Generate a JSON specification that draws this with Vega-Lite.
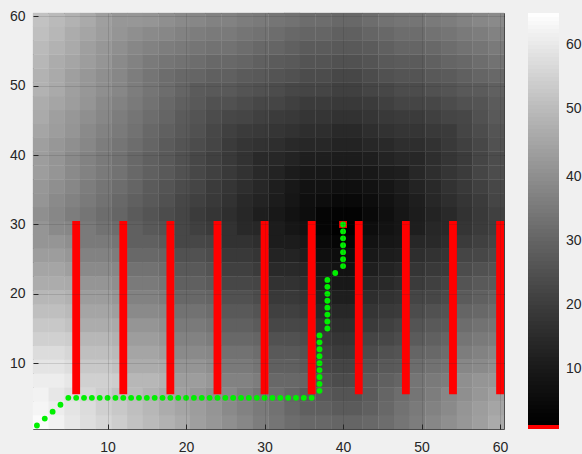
{
"$schema":"https://vega.github.io/schema/vega-lite/v6.json",
"width":471,"height":416,
"autosize":{"type":"none"},
"padding":{"left":33,"top":13,"right":78,"bottom":25},
"background":"#f0f0f0",
"view":{"stroke":"#404040","strokeWidth":1},
"config":{"font":"Liberation Sans"},
"datasets":{
"cells":[
{"x":1.5,"y":1.5,"v":64},{"x":3.5,"y":1.5,"v":62},{"x":5.5,"y":1.5,"v":60},{"x":7.5,"y":1.5,"v":58},{"x":9.5,"y":1.5,"v":56},{"x":11.5,"y":1.5,"v":54},{"x":13.5,"y":1.5,"v":52},{"x":15.5,"y":1.5,"v":50},{"x":17.5,"y":1.5,"v":48},{"x":19.5,"y":1.5,"v":46},{"x":21.5,"y":1.5,"v":44},{"x":23.5,"y":1.5,"v":42},{"x":25.5,"y":1.5,"v":40},{"x":27.5,"y":1.5,"v":38},{"x":29.5,"y":1.5,"v":36},{"x":31.5,"y":1.5,"v":34},{"x":33.5,"y":1.5,"v":32},{"x":35.5,"y":1.5,"v":31},{"x":37.5,"y":1.5,"v":31},{"x":39.5,"y":1.5,"v":30},{"x":41.5,"y":1.5,"v":30},{"x":43.5,"y":1.5,"v":31},{"x":45.5,"y":1.5,"v":32},{"x":47.5,"y":1.5,"v":34},{"x":49.5,"y":1.5,"v":36},{"x":51.5,"y":1.5,"v":38},{"x":53.5,"y":1.5,"v":40},{"x":55.5,"y":1.5,"v":42},{"x":57.5,"y":1.5,"v":44},{"x":59.5,"y":1.5,"v":46},
{"x":1.5,"y":3.5,"v":63},{"x":3.5,"y":3.5,"v":61},{"x":5.5,"y":3.5,"v":59},{"x":7.5,"y":3.5,"v":57},{"x":9.5,"y":3.5,"v":55},{"x":11.5,"y":3.5,"v":53},{"x":13.5,"y":3.5,"v":51},{"x":15.5,"y":3.5,"v":49},{"x":17.5,"y":3.5,"v":47},{"x":19.5,"y":3.5,"v":45},{"x":21.5,"y":3.5,"v":43},{"x":23.5,"y":3.5,"v":41},{"x":25.5,"y":3.5,"v":39},{"x":27.5,"y":3.5,"v":37},{"x":29.5,"y":3.5,"v":35},{"x":31.5,"y":3.5,"v":33},{"x":33.5,"y":3.5,"v":31},{"x":35.5,"y":3.5,"v":29},{"x":37.5,"y":3.5,"v":29},{"x":39.5,"y":3.5,"v":28},{"x":41.5,"y":3.5,"v":28},{"x":43.5,"y":3.5,"v":29},{"x":45.5,"y":3.5,"v":31},{"x":47.5,"y":3.5,"v":33},{"x":49.5,"y":3.5,"v":35},{"x":51.5,"y":3.5,"v":37},{"x":53.5,"y":3.5,"v":39},{"x":55.5,"y":3.5,"v":41},{"x":57.5,"y":3.5,"v":43},{"x":59.5,"y":3.5,"v":45},
{"x":1.5,"y":5.5,"v":62},{"x":3.5,"y":5.5,"v":60},{"x":5.5,"y":5.5,"v":58},{"x":7.5,"y":5.5,"v":56},{"x":9.5,"y":5.5,"v":54},{"x":11.5,"y":5.5,"v":52},{"x":13.5,"y":5.5,"v":50},{"x":15.5,"y":5.5,"v":48},{"x":17.5,"y":5.5,"v":46},{"x":19.5,"y":5.5,"v":44},{"x":21.5,"y":5.5,"v":42},{"x":23.5,"y":5.5,"v":40},{"x":25.5,"y":5.5,"v":38},{"x":27.5,"y":5.5,"v":36},{"x":29.5,"y":5.5,"v":34},{"x":31.5,"y":5.5,"v":32},{"x":33.5,"y":5.5,"v":30},{"x":35.5,"y":5.5,"v":28},{"x":37.5,"y":5.5,"v":27},{"x":39.5,"y":5.5,"v":26},{"x":41.5,"y":5.5,"v":26},{"x":43.5,"y":5.5,"v":28},{"x":45.5,"y":5.5,"v":30},{"x":47.5,"y":5.5,"v":32},{"x":49.5,"y":5.5,"v":34},{"x":51.5,"y":5.5,"v":36},{"x":53.5,"y":5.5,"v":38},{"x":55.5,"y":5.5,"v":40},{"x":57.5,"y":5.5,"v":42},{"x":59.5,"y":5.5,"v":44},
{"x":1.5,"y":7.5,"v":61},{"x":3.5,"y":7.5,"v":61},{"x":5.5,"y":7.5,"v":60},{"x":7.5,"y":7.5,"v":55},{"x":9.5,"y":7.5,"v":55},{"x":11.5,"y":7.5,"v":54},{"x":13.5,"y":7.5,"v":49},{"x":15.5,"y":7.5,"v":49},{"x":17.5,"y":7.5,"v":48},{"x":19.5,"y":7.5,"v":43},{"x":21.5,"y":7.5,"v":43},{"x":23.5,"y":7.5,"v":42},{"x":25.5,"y":7.5,"v":37},{"x":27.5,"y":7.5,"v":37},{"x":29.5,"y":7.5,"v":36},{"x":31.5,"y":7.5,"v":31},{"x":33.5,"y":7.5,"v":31},{"x":35.5,"y":7.5,"v":30},{"x":37.5,"y":7.5,"v":25},{"x":39.5,"y":7.5,"v":24},{"x":41.5,"y":7.5,"v":24},{"x":43.5,"y":7.5,"v":28},{"x":45.5,"y":7.5,"v":29},{"x":47.5,"y":7.5,"v":30},{"x":49.5,"y":7.5,"v":34},{"x":51.5,"y":7.5,"v":35},{"x":53.5,"y":7.5,"v":36},{"x":55.5,"y":7.5,"v":40},{"x":57.5,"y":7.5,"v":41},{"x":59.5,"y":7.5,"v":42},
{"x":1.5,"y":9.5,"v":59},{"x":3.5,"y":9.5,"v":59},{"x":5.5,"y":9.5,"v":58},{"x":7.5,"y":9.5,"v":53},{"x":9.5,"y":9.5,"v":53},{"x":11.5,"y":9.5,"v":52},{"x":13.5,"y":9.5,"v":47},{"x":15.5,"y":9.5,"v":47},{"x":17.5,"y":9.5,"v":46},{"x":19.5,"y":9.5,"v":41},{"x":21.5,"y":9.5,"v":41},{"x":23.5,"y":9.5,"v":40},{"x":25.5,"y":9.5,"v":35},{"x":27.5,"y":9.5,"v":35},{"x":29.5,"y":9.5,"v":34},{"x":31.5,"y":9.5,"v":29},{"x":33.5,"y":9.5,"v":29},{"x":35.5,"y":9.5,"v":28},{"x":37.5,"y":9.5,"v":23},{"x":39.5,"y":9.5,"v":22},{"x":41.5,"y":9.5,"v":22},{"x":43.5,"y":9.5,"v":26},{"x":45.5,"y":9.5,"v":27},{"x":47.5,"y":9.5,"v":28},{"x":49.5,"y":9.5,"v":32},{"x":51.5,"y":9.5,"v":33},{"x":53.5,"y":9.5,"v":34},{"x":55.5,"y":9.5,"v":38},{"x":57.5,"y":9.5,"v":39},{"x":59.5,"y":9.5,"v":40},
{"x":1.5,"y":11.5,"v":57},{"x":3.5,"y":11.5,"v":57},{"x":5.5,"y":11.5,"v":56},{"x":7.5,"y":11.5,"v":51},{"x":9.5,"y":11.5,"v":51},{"x":11.5,"y":11.5,"v":50},{"x":13.5,"y":11.5,"v":45},{"x":15.5,"y":11.5,"v":45},{"x":17.5,"y":11.5,"v":44},{"x":19.5,"y":11.5,"v":39},{"x":21.5,"y":11.5,"v":39},{"x":23.5,"y":11.5,"v":38},{"x":25.5,"y":11.5,"v":33},{"x":27.5,"y":11.5,"v":33},{"x":29.5,"y":11.5,"v":32},{"x":31.5,"y":11.5,"v":27},{"x":33.5,"y":11.5,"v":27},{"x":35.5,"y":11.5,"v":26},{"x":37.5,"y":11.5,"v":21},{"x":39.5,"y":11.5,"v":20},{"x":41.5,"y":11.5,"v":20},{"x":43.5,"y":11.5,"v":24},{"x":45.5,"y":11.5,"v":25},{"x":47.5,"y":11.5,"v":26},{"x":49.5,"y":11.5,"v":30},{"x":51.5,"y":11.5,"v":31},{"x":53.5,"y":11.5,"v":32},{"x":55.5,"y":11.5,"v":36},{"x":57.5,"y":11.5,"v":37},{"x":59.5,"y":11.5,"v":38},
{"x":1.5,"y":13.5,"v":55},{"x":3.5,"y":13.5,"v":55},{"x":5.5,"y":13.5,"v":54},{"x":7.5,"y":13.5,"v":49},{"x":9.5,"y":13.5,"v":49},{"x":11.5,"y":13.5,"v":48},{"x":13.5,"y":13.5,"v":43},{"x":15.5,"y":13.5,"v":43},{"x":17.5,"y":13.5,"v":42},{"x":19.5,"y":13.5,"v":37},{"x":21.5,"y":13.5,"v":37},{"x":23.5,"y":13.5,"v":36},{"x":25.5,"y":13.5,"v":31},{"x":27.5,"y":13.5,"v":31},{"x":29.5,"y":13.5,"v":30},{"x":31.5,"y":13.5,"v":25},{"x":33.5,"y":13.5,"v":25},{"x":35.5,"y":13.5,"v":24},{"x":37.5,"y":13.5,"v":19},{"x":39.5,"y":13.5,"v":18},{"x":41.5,"y":13.5,"v":18},{"x":43.5,"y":13.5,"v":22},{"x":45.5,"y":13.5,"v":23},{"x":47.5,"y":13.5,"v":24},{"x":49.5,"y":13.5,"v":28},{"x":51.5,"y":13.5,"v":29},{"x":53.5,"y":13.5,"v":30},{"x":55.5,"y":13.5,"v":34},{"x":57.5,"y":13.5,"v":35},{"x":59.5,"y":13.5,"v":36},
{"x":1.5,"y":15.5,"v":53},{"x":3.5,"y":15.5,"v":53},{"x":5.5,"y":15.5,"v":52},{"x":7.5,"y":15.5,"v":47},{"x":9.5,"y":15.5,"v":47},{"x":11.5,"y":15.5,"v":46},{"x":13.5,"y":15.5,"v":41},{"x":15.5,"y":15.5,"v":41},{"x":17.5,"y":15.5,"v":40},{"x":19.5,"y":15.5,"v":35},{"x":21.5,"y":15.5,"v":35},{"x":23.5,"y":15.5,"v":34},{"x":25.5,"y":15.5,"v":29},{"x":27.5,"y":15.5,"v":29},{"x":29.5,"y":15.5,"v":28},{"x":31.5,"y":15.5,"v":23},{"x":33.5,"y":15.5,"v":23},{"x":35.5,"y":15.5,"v":22},{"x":37.5,"y":15.5,"v":17},{"x":39.5,"y":15.5,"v":16},{"x":41.5,"y":15.5,"v":16},{"x":43.5,"y":15.5,"v":20},{"x":45.5,"y":15.5,"v":21},{"x":47.5,"y":15.5,"v":22},{"x":49.5,"y":15.5,"v":26},{"x":51.5,"y":15.5,"v":27},{"x":53.5,"y":15.5,"v":28},{"x":55.5,"y":15.5,"v":32},{"x":57.5,"y":15.5,"v":33},{"x":59.5,"y":15.5,"v":34},
{"x":1.5,"y":17.5,"v":51},{"x":3.5,"y":17.5,"v":51},{"x":5.5,"y":17.5,"v":50},{"x":7.5,"y":17.5,"v":45},{"x":9.5,"y":17.5,"v":45},{"x":11.5,"y":17.5,"v":44},{"x":13.5,"y":17.5,"v":39},{"x":15.5,"y":17.5,"v":39},{"x":17.5,"y":17.5,"v":38},{"x":19.5,"y":17.5,"v":33},{"x":21.5,"y":17.5,"v":33},{"x":23.5,"y":17.5,"v":32},{"x":25.5,"y":17.5,"v":27},{"x":27.5,"y":17.5,"v":27},{"x":29.5,"y":17.5,"v":26},{"x":31.5,"y":17.5,"v":21},{"x":33.5,"y":17.5,"v":21},{"x":35.5,"y":17.5,"v":20},{"x":37.5,"y":17.5,"v":15},{"x":39.5,"y":17.5,"v":14},{"x":41.5,"y":17.5,"v":14},{"x":43.5,"y":17.5,"v":18},{"x":45.5,"y":17.5,"v":19},{"x":47.5,"y":17.5,"v":20},{"x":49.5,"y":17.5,"v":24},{"x":51.5,"y":17.5,"v":25},{"x":53.5,"y":17.5,"v":26},{"x":55.5,"y":17.5,"v":30},{"x":57.5,"y":17.5,"v":31},{"x":59.5,"y":17.5,"v":32},
{"x":1.5,"y":19.5,"v":49},{"x":3.5,"y":19.5,"v":49},{"x":5.5,"y":19.5,"v":48},{"x":7.5,"y":19.5,"v":43},{"x":9.5,"y":19.5,"v":43},{"x":11.5,"y":19.5,"v":42},{"x":13.5,"y":19.5,"v":37},{"x":15.5,"y":19.5,"v":37},{"x":17.5,"y":19.5,"v":36},{"x":19.5,"y":19.5,"v":31},{"x":21.5,"y":19.5,"v":31},{"x":23.5,"y":19.5,"v":30},{"x":25.5,"y":19.5,"v":25},{"x":27.5,"y":19.5,"v":25},{"x":29.5,"y":19.5,"v":24},{"x":31.5,"y":19.5,"v":19},{"x":33.5,"y":19.5,"v":19},{"x":35.5,"y":19.5,"v":18},{"x":37.5,"y":19.5,"v":13},{"x":39.5,"y":19.5,"v":12},{"x":41.5,"y":19.5,"v":12},{"x":43.5,"y":19.5,"v":16},{"x":45.5,"y":19.5,"v":17},{"x":47.5,"y":19.5,"v":18},{"x":49.5,"y":19.5,"v":22},{"x":51.5,"y":19.5,"v":23},{"x":53.5,"y":19.5,"v":24},{"x":55.5,"y":19.5,"v":28},{"x":57.5,"y":19.5,"v":29},{"x":59.5,"y":19.5,"v":30},
{"x":1.5,"y":21.5,"v":47},{"x":3.5,"y":21.5,"v":47},{"x":5.5,"y":21.5,"v":46},{"x":7.5,"y":21.5,"v":41},{"x":9.5,"y":21.5,"v":41},{"x":11.5,"y":21.5,"v":40},{"x":13.5,"y":21.5,"v":35},{"x":15.5,"y":21.5,"v":35},{"x":17.5,"y":21.5,"v":34},{"x":19.5,"y":21.5,"v":29},{"x":21.5,"y":21.5,"v":29},{"x":23.5,"y":21.5,"v":28},{"x":25.5,"y":21.5,"v":23},{"x":27.5,"y":21.5,"v":23},{"x":29.5,"y":21.5,"v":22},{"x":31.5,"y":21.5,"v":17},{"x":33.5,"y":21.5,"v":17},{"x":35.5,"y":21.5,"v":16},{"x":37.5,"y":21.5,"v":11},{"x":39.5,"y":21.5,"v":10},{"x":41.5,"y":21.5,"v":10},{"x":43.5,"y":21.5,"v":14},{"x":45.5,"y":21.5,"v":15},{"x":47.5,"y":21.5,"v":16},{"x":49.5,"y":21.5,"v":20},{"x":51.5,"y":21.5,"v":21},{"x":53.5,"y":21.5,"v":22},{"x":55.5,"y":21.5,"v":26},{"x":57.5,"y":21.5,"v":27},{"x":59.5,"y":21.5,"v":28},
{"x":1.5,"y":23.5,"v":45},{"x":3.5,"y":23.5,"v":45},{"x":5.5,"y":23.5,"v":44},{"x":7.5,"y":23.5,"v":39},{"x":9.5,"y":23.5,"v":39},{"x":11.5,"y":23.5,"v":38},{"x":13.5,"y":23.5,"v":33},{"x":15.5,"y":23.5,"v":33},{"x":17.5,"y":23.5,"v":32},{"x":19.5,"y":23.5,"v":27},{"x":21.5,"y":23.5,"v":27},{"x":23.5,"y":23.5,"v":26},{"x":25.5,"y":23.5,"v":21},{"x":27.5,"y":23.5,"v":21},{"x":29.5,"y":23.5,"v":20},{"x":31.5,"y":23.5,"v":15},{"x":33.5,"y":23.5,"v":15},{"x":35.5,"y":23.5,"v":14},{"x":37.5,"y":23.5,"v":9},{"x":39.5,"y":23.5,"v":8},{"x":41.5,"y":23.5,"v":8},{"x":43.5,"y":23.5,"v":12},{"x":45.5,"y":23.5,"v":13},{"x":47.5,"y":23.5,"v":14},{"x":49.5,"y":23.5,"v":18},{"x":51.5,"y":23.5,"v":19},{"x":53.5,"y":23.5,"v":20},{"x":55.5,"y":23.5,"v":24},{"x":57.5,"y":23.5,"v":25},{"x":59.5,"y":23.5,"v":26},
{"x":1.5,"y":25.5,"v":43},{"x":3.5,"y":25.5,"v":43},{"x":5.5,"y":25.5,"v":42},{"x":7.5,"y":25.5,"v":37},{"x":9.5,"y":25.5,"v":37},{"x":11.5,"y":25.5,"v":36},{"x":13.5,"y":25.5,"v":31},{"x":15.5,"y":25.5,"v":31},{"x":17.5,"y":25.5,"v":30},{"x":19.5,"y":25.5,"v":25},{"x":21.5,"y":25.5,"v":25},{"x":23.5,"y":25.5,"v":24},{"x":25.5,"y":25.5,"v":19},{"x":27.5,"y":25.5,"v":19},{"x":29.5,"y":25.5,"v":18},{"x":31.5,"y":25.5,"v":13},{"x":33.5,"y":25.5,"v":13},{"x":35.5,"y":25.5,"v":12},{"x":37.5,"y":25.5,"v":7},{"x":39.5,"y":25.5,"v":6},{"x":41.5,"y":25.5,"v":6},{"x":43.5,"y":25.5,"v":10},{"x":45.5,"y":25.5,"v":11},{"x":47.5,"y":25.5,"v":12},{"x":49.5,"y":25.5,"v":16},{"x":51.5,"y":25.5,"v":17},{"x":53.5,"y":25.5,"v":18},{"x":55.5,"y":25.5,"v":22},{"x":57.5,"y":25.5,"v":23},{"x":59.5,"y":25.5,"v":24},
{"x":1.5,"y":27.5,"v":41},{"x":3.5,"y":27.5,"v":41},{"x":5.5,"y":27.5,"v":40},{"x":7.5,"y":27.5,"v":35},{"x":9.5,"y":27.5,"v":35},{"x":11.5,"y":27.5,"v":34},{"x":13.5,"y":27.5,"v":29},{"x":15.5,"y":27.5,"v":29},{"x":17.5,"y":27.5,"v":28},{"x":19.5,"y":27.5,"v":23},{"x":21.5,"y":27.5,"v":23},{"x":23.5,"y":27.5,"v":22},{"x":25.5,"y":27.5,"v":17},{"x":27.5,"y":27.5,"v":17},{"x":29.5,"y":27.5,"v":16},{"x":31.5,"y":27.5,"v":11},{"x":33.5,"y":27.5,"v":11},{"x":35.5,"y":27.5,"v":10},{"x":37.5,"y":27.5,"v":5},{"x":39.5,"y":27.5,"v":4},{"x":41.5,"y":27.5,"v":4},{"x":43.5,"y":27.5,"v":8},{"x":45.5,"y":27.5,"v":9},{"x":47.5,"y":27.5,"v":10},{"x":49.5,"y":27.5,"v":14},{"x":51.5,"y":27.5,"v":15},{"x":53.5,"y":27.5,"v":16},{"x":55.5,"y":27.5,"v":20},{"x":57.5,"y":27.5,"v":21},{"x":59.5,"y":27.5,"v":22},
{"x":1.5,"y":29.5,"v":41},{"x":3.5,"y":29.5,"v":39},{"x":5.5,"y":29.5,"v":38},{"x":7.5,"y":29.5,"v":35},{"x":9.5,"y":29.5,"v":33},{"x":11.5,"y":29.5,"v":32},{"x":13.5,"y":29.5,"v":29},{"x":15.5,"y":29.5,"v":27},{"x":17.5,"y":29.5,"v":26},{"x":19.5,"y":29.5,"v":23},{"x":21.5,"y":29.5,"v":21},{"x":23.5,"y":29.5,"v":20},{"x":25.5,"y":29.5,"v":17},{"x":27.5,"y":29.5,"v":15},{"x":29.5,"y":29.5,"v":14},{"x":31.5,"y":29.5,"v":11},{"x":33.5,"y":29.5,"v":9},{"x":35.5,"y":29.5,"v":8},{"x":37.5,"y":29.5,"v":4},{"x":39.5,"y":29.5,"v":2},{"x":41.5,"y":29.5,"v":2},{"x":43.5,"y":29.5,"v":6},{"x":45.5,"y":29.5,"v":8},{"x":47.5,"y":29.5,"v":9},{"x":49.5,"y":29.5,"v":12},{"x":51.5,"y":29.5,"v":14},{"x":53.5,"y":29.5,"v":15},{"x":55.5,"y":29.5,"v":18},{"x":57.5,"y":29.5,"v":20},{"x":59.5,"y":29.5,"v":21},
{"x":1.5,"y":31.5,"v":40},{"x":3.5,"y":31.5,"v":38},{"x":5.5,"y":31.5,"v":36},{"x":7.5,"y":31.5,"v":34},{"x":9.5,"y":31.5,"v":32},{"x":11.5,"y":31.5,"v":30},{"x":13.5,"y":31.5,"v":28},{"x":15.5,"y":31.5,"v":26},{"x":17.5,"y":31.5,"v":24},{"x":19.5,"y":31.5,"v":22},{"x":21.5,"y":31.5,"v":20},{"x":23.5,"y":31.5,"v":18},{"x":25.5,"y":31.5,"v":16},{"x":27.5,"y":31.5,"v":14},{"x":29.5,"y":31.5,"v":12},{"x":31.5,"y":31.5,"v":10},{"x":33.5,"y":31.5,"v":8},{"x":35.5,"y":31.5,"v":6},{"x":37.5,"y":31.5,"v":4},{"x":39.5,"y":31.5,"v":3},{"x":41.5,"y":31.5,"v":3},{"x":43.5,"y":31.5,"v":5},{"x":45.5,"y":31.5,"v":7},{"x":47.5,"y":31.5,"v":9},{"x":49.5,"y":31.5,"v":11},{"x":51.5,"y":31.5,"v":13},{"x":53.5,"y":31.5,"v":15},{"x":55.5,"y":31.5,"v":17},{"x":57.5,"y":31.5,"v":19},{"x":59.5,"y":31.5,"v":21},
{"x":1.5,"y":33.5,"v":41},{"x":3.5,"y":33.5,"v":39},{"x":5.5,"y":33.5,"v":37},{"x":7.5,"y":33.5,"v":35},{"x":9.5,"y":33.5,"v":33},{"x":11.5,"y":33.5,"v":31},{"x":13.5,"y":33.5,"v":29},{"x":15.5,"y":33.5,"v":27},{"x":17.5,"y":33.5,"v":25},{"x":19.5,"y":33.5,"v":23},{"x":21.5,"y":33.5,"v":21},{"x":23.5,"y":33.5,"v":19},{"x":25.5,"y":33.5,"v":17},{"x":27.5,"y":33.5,"v":15},{"x":29.5,"y":33.5,"v":13},{"x":31.5,"y":33.5,"v":11},{"x":33.5,"y":33.5,"v":9},{"x":35.5,"y":33.5,"v":7},{"x":37.5,"y":33.5,"v":6},{"x":39.5,"y":33.5,"v":5},{"x":41.5,"y":33.5,"v":5},{"x":43.5,"y":33.5,"v":6},{"x":45.5,"y":33.5,"v":8},{"x":47.5,"y":33.5,"v":10},{"x":49.5,"y":33.5,"v":12},{"x":51.5,"y":33.5,"v":14},{"x":53.5,"y":33.5,"v":16},{"x":55.5,"y":33.5,"v":18},{"x":57.5,"y":33.5,"v":20},{"x":59.5,"y":33.5,"v":22},
{"x":1.5,"y":35.5,"v":42},{"x":3.5,"y":35.5,"v":40},{"x":5.5,"y":35.5,"v":38},{"x":7.5,"y":35.5,"v":36},{"x":9.5,"y":35.5,"v":34},{"x":11.5,"y":35.5,"v":32},{"x":13.5,"y":35.5,"v":30},{"x":15.5,"y":35.5,"v":28},{"x":17.5,"y":35.5,"v":26},{"x":19.5,"y":35.5,"v":24},{"x":21.5,"y":35.5,"v":22},{"x":23.5,"y":35.5,"v":20},{"x":25.5,"y":35.5,"v":18},{"x":27.5,"y":35.5,"v":16},{"x":29.5,"y":35.5,"v":14},{"x":31.5,"y":35.5,"v":12},{"x":33.5,"y":35.5,"v":10},{"x":35.5,"y":35.5,"v":8},{"x":37.5,"y":35.5,"v":8},{"x":39.5,"y":35.5,"v":7},{"x":41.5,"y":35.5,"v":7},{"x":43.5,"y":35.5,"v":8},{"x":45.5,"y":35.5,"v":9},{"x":47.5,"y":35.5,"v":11},{"x":49.5,"y":35.5,"v":13},{"x":51.5,"y":35.5,"v":15},{"x":53.5,"y":35.5,"v":17},{"x":55.5,"y":35.5,"v":19},{"x":57.5,"y":35.5,"v":21},{"x":59.5,"y":35.5,"v":23},
{"x":1.5,"y":37.5,"v":43},{"x":3.5,"y":37.5,"v":41},{"x":5.5,"y":37.5,"v":39},{"x":7.5,"y":37.5,"v":37},{"x":9.5,"y":37.5,"v":35},{"x":11.5,"y":37.5,"v":33},{"x":13.5,"y":37.5,"v":31},{"x":15.5,"y":37.5,"v":29},{"x":17.5,"y":37.5,"v":27},{"x":19.5,"y":37.5,"v":25},{"x":21.5,"y":37.5,"v":23},{"x":23.5,"y":37.5,"v":21},{"x":25.5,"y":37.5,"v":19},{"x":27.5,"y":37.5,"v":17},{"x":29.5,"y":37.5,"v":15},{"x":31.5,"y":37.5,"v":13},{"x":33.5,"y":37.5,"v":11},{"x":35.5,"y":37.5,"v":10},{"x":37.5,"y":37.5,"v":10},{"x":39.5,"y":37.5,"v":9},{"x":41.5,"y":37.5,"v":9},{"x":43.5,"y":37.5,"v":10},{"x":45.5,"y":37.5,"v":11},{"x":47.5,"y":37.5,"v":12},{"x":49.5,"y":37.5,"v":14},{"x":51.5,"y":37.5,"v":16},{"x":53.5,"y":37.5,"v":18},{"x":55.5,"y":37.5,"v":20},{"x":57.5,"y":37.5,"v":22},{"x":59.5,"y":37.5,"v":24},
{"x":1.5,"y":39.5,"v":43},{"x":3.5,"y":39.5,"v":41},{"x":5.5,"y":39.5,"v":39},{"x":7.5,"y":39.5,"v":37},{"x":9.5,"y":39.5,"v":35},{"x":11.5,"y":39.5,"v":33},{"x":13.5,"y":39.5,"v":31},{"x":15.5,"y":39.5,"v":29},{"x":17.5,"y":39.5,"v":27},{"x":19.5,"y":39.5,"v":25},{"x":21.5,"y":39.5,"v":23},{"x":23.5,"y":39.5,"v":21},{"x":25.5,"y":39.5,"v":19},{"x":27.5,"y":39.5,"v":17},{"x":29.5,"y":39.5,"v":15},{"x":31.5,"y":39.5,"v":14},{"x":33.5,"y":39.5,"v":13},{"x":35.5,"y":39.5,"v":12},{"x":37.5,"y":39.5,"v":12},{"x":39.5,"y":39.5,"v":11},{"x":41.5,"y":39.5,"v":11},{"x":43.5,"y":39.5,"v":12},{"x":45.5,"y":39.5,"v":13},{"x":47.5,"y":39.5,"v":14},{"x":49.5,"y":39.5,"v":14},{"x":51.5,"y":39.5,"v":16},{"x":53.5,"y":39.5,"v":18},{"x":55.5,"y":39.5,"v":20},{"x":57.5,"y":39.5,"v":22},{"x":59.5,"y":39.5,"v":24},
{"x":1.5,"y":41.5,"v":44},{"x":3.5,"y":41.5,"v":42},{"x":5.5,"y":41.5,"v":40},{"x":7.5,"y":41.5,"v":38},{"x":9.5,"y":41.5,"v":36},{"x":11.5,"y":41.5,"v":34},{"x":13.5,"y":41.5,"v":32},{"x":15.5,"y":41.5,"v":30},{"x":17.5,"y":41.5,"v":28},{"x":19.5,"y":41.5,"v":26},{"x":21.5,"y":41.5,"v":24},{"x":23.5,"y":41.5,"v":22},{"x":25.5,"y":41.5,"v":20},{"x":27.5,"y":41.5,"v":18},{"x":29.5,"y":41.5,"v":17},{"x":31.5,"y":41.5,"v":16},{"x":33.5,"y":41.5,"v":15},{"x":35.5,"y":41.5,"v":14},{"x":37.5,"y":41.5,"v":14},{"x":39.5,"y":41.5,"v":13},{"x":41.5,"y":41.5,"v":13},{"x":43.5,"y":41.5,"v":14},{"x":45.5,"y":41.5,"v":15},{"x":47.5,"y":41.5,"v":16},{"x":49.5,"y":41.5,"v":16},{"x":51.5,"y":41.5,"v":17},{"x":53.5,"y":41.5,"v":19},{"x":55.5,"y":41.5,"v":21},{"x":57.5,"y":41.5,"v":23},{"x":59.5,"y":41.5,"v":25},
{"x":1.5,"y":43.5,"v":45},{"x":3.5,"y":43.5,"v":43},{"x":5.5,"y":43.5,"v":41},{"x":7.5,"y":43.5,"v":39},{"x":9.5,"y":43.5,"v":37},{"x":11.5,"y":43.5,"v":35},{"x":13.5,"y":43.5,"v":33},{"x":15.5,"y":43.5,"v":31},{"x":17.5,"y":43.5,"v":29},{"x":19.5,"y":43.5,"v":27},{"x":21.5,"y":43.5,"v":25},{"x":23.5,"y":43.5,"v":23},{"x":25.5,"y":43.5,"v":21},{"x":27.5,"y":43.5,"v":20},{"x":29.5,"y":43.5,"v":19},{"x":31.5,"y":43.5,"v":18},{"x":33.5,"y":43.5,"v":17},{"x":35.5,"y":43.5,"v":16},{"x":37.5,"y":43.5,"v":16},{"x":39.5,"y":43.5,"v":15},{"x":41.5,"y":43.5,"v":15},{"x":43.5,"y":43.5,"v":16},{"x":45.5,"y":43.5,"v":17},{"x":47.5,"y":43.5,"v":18},{"x":49.5,"y":43.5,"v":18},{"x":51.5,"y":43.5,"v":19},{"x":53.5,"y":43.5,"v":20},{"x":55.5,"y":43.5,"v":22},{"x":57.5,"y":43.5,"v":24},{"x":59.5,"y":43.5,"v":26},
{"x":1.5,"y":45.5,"v":46},{"x":3.5,"y":45.5,"v":44},{"x":5.5,"y":45.5,"v":42},{"x":7.5,"y":45.5,"v":40},{"x":9.5,"y":45.5,"v":38},{"x":11.5,"y":45.5,"v":36},{"x":13.5,"y":45.5,"v":34},{"x":15.5,"y":45.5,"v":32},{"x":17.5,"y":45.5,"v":30},{"x":19.5,"y":45.5,"v":28},{"x":21.5,"y":45.5,"v":26},{"x":23.5,"y":45.5,"v":24},{"x":25.5,"y":45.5,"v":23},{"x":27.5,"y":45.5,"v":22},{"x":29.5,"y":45.5,"v":21},{"x":31.5,"y":45.5,"v":20},{"x":33.5,"y":45.5,"v":19},{"x":35.5,"y":45.5,"v":18},{"x":37.5,"y":45.5,"v":18},{"x":39.5,"y":45.5,"v":17},{"x":41.5,"y":45.5,"v":17},{"x":43.5,"y":45.5,"v":18},{"x":45.5,"y":45.5,"v":19},{"x":47.5,"y":45.5,"v":20},{"x":49.5,"y":45.5,"v":20},{"x":51.5,"y":45.5,"v":21},{"x":53.5,"y":45.5,"v":22},{"x":55.5,"y":45.5,"v":23},{"x":57.5,"y":45.5,"v":25},{"x":59.5,"y":45.5,"v":27},
{"x":1.5,"y":47.5,"v":47},{"x":3.5,"y":47.5,"v":45},{"x":5.5,"y":47.5,"v":43},{"x":7.5,"y":47.5,"v":41},{"x":9.5,"y":47.5,"v":39},{"x":11.5,"y":47.5,"v":37},{"x":13.5,"y":47.5,"v":35},{"x":15.5,"y":47.5,"v":33},{"x":17.5,"y":47.5,"v":31},{"x":19.5,"y":47.5,"v":29},{"x":21.5,"y":47.5,"v":27},{"x":23.5,"y":47.5,"v":25},{"x":25.5,"y":47.5,"v":25},{"x":27.5,"y":47.5,"v":24},{"x":29.5,"y":47.5,"v":23},{"x":31.5,"y":47.5,"v":22},{"x":33.5,"y":47.5,"v":21},{"x":35.5,"y":47.5,"v":20},{"x":37.5,"y":47.5,"v":20},{"x":39.5,"y":47.5,"v":19},{"x":41.5,"y":47.5,"v":19},{"x":43.5,"y":47.5,"v":20},{"x":45.5,"y":47.5,"v":21},{"x":47.5,"y":47.5,"v":22},{"x":49.5,"y":47.5,"v":22},{"x":51.5,"y":47.5,"v":23},{"x":53.5,"y":47.5,"v":24},{"x":55.5,"y":47.5,"v":25},{"x":57.5,"y":47.5,"v":26},{"x":59.5,"y":47.5,"v":28},
{"x":1.5,"y":49.5,"v":48},{"x":3.5,"y":49.5,"v":46},{"x":5.5,"y":49.5,"v":44},{"x":7.5,"y":49.5,"v":42},{"x":9.5,"y":49.5,"v":40},{"x":11.5,"y":49.5,"v":38},{"x":13.5,"y":49.5,"v":36},{"x":15.5,"y":49.5,"v":34},{"x":17.5,"y":49.5,"v":32},{"x":19.5,"y":49.5,"v":30},{"x":21.5,"y":49.5,"v":28},{"x":23.5,"y":49.5,"v":27},{"x":25.5,"y":49.5,"v":27},{"x":27.5,"y":49.5,"v":26},{"x":29.5,"y":49.5,"v":25},{"x":31.5,"y":49.5,"v":24},{"x":33.5,"y":49.5,"v":23},{"x":35.5,"y":49.5,"v":22},{"x":37.5,"y":49.5,"v":22},{"x":39.5,"y":49.5,"v":21},{"x":41.5,"y":49.5,"v":21},{"x":43.5,"y":49.5,"v":22},{"x":45.5,"y":49.5,"v":23},{"x":47.5,"y":49.5,"v":24},{"x":49.5,"y":49.5,"v":24},{"x":51.5,"y":49.5,"v":25},{"x":53.5,"y":49.5,"v":26},{"x":55.5,"y":49.5,"v":27},{"x":57.5,"y":49.5,"v":28},{"x":59.5,"y":49.5,"v":29},
{"x":1.5,"y":51.5,"v":48},{"x":3.5,"y":51.5,"v":46},{"x":5.5,"y":51.5,"v":44},{"x":7.5,"y":51.5,"v":42},{"x":9.5,"y":51.5,"v":40},{"x":11.5,"y":51.5,"v":38},{"x":13.5,"y":51.5,"v":36},{"x":15.5,"y":51.5,"v":34},{"x":17.5,"y":51.5,"v":32},{"x":19.5,"y":51.5,"v":31},{"x":21.5,"y":51.5,"v":30},{"x":23.5,"y":51.5,"v":29},{"x":25.5,"y":51.5,"v":29},{"x":27.5,"y":51.5,"v":28},{"x":29.5,"y":51.5,"v":27},{"x":31.5,"y":51.5,"v":26},{"x":33.5,"y":51.5,"v":25},{"x":35.5,"y":51.5,"v":24},{"x":37.5,"y":51.5,"v":24},{"x":39.5,"y":51.5,"v":23},{"x":41.5,"y":51.5,"v":23},{"x":43.5,"y":51.5,"v":24},{"x":45.5,"y":51.5,"v":25},{"x":47.5,"y":51.5,"v":26},{"x":49.5,"y":51.5,"v":26},{"x":51.5,"y":51.5,"v":27},{"x":53.5,"y":51.5,"v":28},{"x":55.5,"y":51.5,"v":29},{"x":57.5,"y":51.5,"v":30},{"x":59.5,"y":51.5,"v":31},
{"x":1.5,"y":53.5,"v":49},{"x":3.5,"y":53.5,"v":47},{"x":5.5,"y":53.5,"v":45},{"x":7.5,"y":53.5,"v":43},{"x":9.5,"y":53.5,"v":41},{"x":11.5,"y":53.5,"v":39},{"x":13.5,"y":53.5,"v":37},{"x":15.5,"y":53.5,"v":35},{"x":17.5,"y":53.5,"v":34},{"x":19.5,"y":53.5,"v":33},{"x":21.5,"y":53.5,"v":32},{"x":23.5,"y":53.5,"v":31},{"x":25.5,"y":53.5,"v":31},{"x":27.5,"y":53.5,"v":30},{"x":29.5,"y":53.5,"v":29},{"x":31.5,"y":53.5,"v":28},{"x":33.5,"y":53.5,"v":27},{"x":35.5,"y":53.5,"v":26},{"x":37.5,"y":53.5,"v":26},{"x":39.5,"y":53.5,"v":25},{"x":41.5,"y":53.5,"v":25},{"x":43.5,"y":53.5,"v":26},{"x":45.5,"y":53.5,"v":27},{"x":47.5,"y":53.5,"v":28},{"x":49.5,"y":53.5,"v":28},{"x":51.5,"y":53.5,"v":29},{"x":53.5,"y":53.5,"v":30},{"x":55.5,"y":53.5,"v":31},{"x":57.5,"y":53.5,"v":32},{"x":59.5,"y":53.5,"v":33},
{"x":1.5,"y":55.5,"v":50},{"x":3.5,"y":55.5,"v":48},{"x":5.5,"y":55.5,"v":46},{"x":7.5,"y":55.5,"v":44},{"x":9.5,"y":55.5,"v":42},{"x":11.5,"y":55.5,"v":40},{"x":13.5,"y":55.5,"v":38},{"x":15.5,"y":55.5,"v":37},{"x":17.5,"y":55.5,"v":36},{"x":19.5,"y":55.5,"v":35},{"x":21.5,"y":55.5,"v":34},{"x":23.5,"y":55.5,"v":33},{"x":25.5,"y":55.5,"v":33},{"x":27.5,"y":55.5,"v":32},{"x":29.5,"y":55.5,"v":31},{"x":31.5,"y":55.5,"v":30},{"x":33.5,"y":55.5,"v":29},{"x":35.5,"y":55.5,"v":28},{"x":37.5,"y":55.5,"v":28},{"x":39.5,"y":55.5,"v":27},{"x":41.5,"y":55.5,"v":27},{"x":43.5,"y":55.5,"v":28},{"x":45.5,"y":55.5,"v":29},{"x":47.5,"y":55.5,"v":30},{"x":49.5,"y":55.5,"v":30},{"x":51.5,"y":55.5,"v":31},{"x":53.5,"y":55.5,"v":32},{"x":55.5,"y":55.5,"v":33},{"x":57.5,"y":55.5,"v":34},{"x":59.5,"y":55.5,"v":35},
{"x":1.5,"y":57.5,"v":51},{"x":3.5,"y":57.5,"v":49},{"x":5.5,"y":57.5,"v":47},{"x":7.5,"y":57.5,"v":45},{"x":9.5,"y":57.5,"v":43},{"x":11.5,"y":57.5,"v":41},{"x":13.5,"y":57.5,"v":40},{"x":15.5,"y":57.5,"v":39},{"x":17.5,"y":57.5,"v":38},{"x":19.5,"y":57.5,"v":37},{"x":21.5,"y":57.5,"v":36},{"x":23.5,"y":57.5,"v":35},{"x":25.5,"y":57.5,"v":35},{"x":27.5,"y":57.5,"v":34},{"x":29.5,"y":57.5,"v":33},{"x":31.5,"y":57.5,"v":32},{"x":33.5,"y":57.5,"v":31},{"x":35.5,"y":57.5,"v":30},{"x":37.5,"y":57.5,"v":30},{"x":39.5,"y":57.5,"v":29},{"x":41.5,"y":57.5,"v":29},{"x":43.5,"y":57.5,"v":30},{"x":45.5,"y":57.5,"v":31},{"x":47.5,"y":57.5,"v":32},{"x":49.5,"y":57.5,"v":32},{"x":51.5,"y":57.5,"v":33},{"x":53.5,"y":57.5,"v":34},{"x":55.5,"y":57.5,"v":35},{"x":57.5,"y":57.5,"v":36},{"x":59.5,"y":57.5,"v":37},
{"x":1.5,"y":59.5,"v":52},{"x":3.5,"y":59.5,"v":50},{"x":5.5,"y":59.5,"v":48},{"x":7.5,"y":59.5,"v":46},{"x":9.5,"y":59.5,"v":44},{"x":11.5,"y":59.5,"v":42},{"x":13.5,"y":59.5,"v":42},{"x":15.5,"y":59.5,"v":41},{"x":17.5,"y":59.5,"v":40},{"x":19.5,"y":59.5,"v":39},{"x":21.5,"y":59.5,"v":38},{"x":23.5,"y":59.5,"v":37},{"x":25.5,"y":59.5,"v":37},{"x":27.5,"y":59.5,"v":36},{"x":29.5,"y":59.5,"v":35},{"x":31.5,"y":59.5,"v":34},{"x":33.5,"y":59.5,"v":33},{"x":35.5,"y":59.5,"v":32},{"x":37.5,"y":59.5,"v":32},{"x":39.5,"y":59.5,"v":31},{"x":41.5,"y":59.5,"v":31},{"x":43.5,"y":59.5,"v":32},{"x":45.5,"y":59.5,"v":33},{"x":47.5,"y":59.5,"v":34},{"x":49.5,"y":59.5,"v":34},{"x":51.5,"y":59.5,"v":35},{"x":53.5,"y":59.5,"v":36},{"x":55.5,"y":59.5,"v":37},{"x":57.5,"y":59.5,"v":38},{"x":59.5,"y":59.5,"v":39}
],
"walls":[
{"x0":5.5,"x1":6.5,"y0":5.5,"y1":30.5},{"x0":11.5,"x1":12.5,"y0":5.5,"y1":30.5},{"x0":17.5,"x1":18.5,"y0":5.5,"y1":30.5},{"x0":23.5,"x1":24.5,"y0":5.5,"y1":30.5},{"x0":29.5,"x1":30.5,"y0":5.5,"y1":30.5},{"x0":35.5,"x1":36.5,"y0":5.5,"y1":30.5},{"x0":41.5,"x1":42.5,"y0":5.5,"y1":30.5},{"x0":47.5,"x1":48.5,"y0":5.5,"y1":30.5},{"x0":53.5,"x1":54.5,"y0":5.5,"y1":30.5},{"x0":59.5,"x1":60.5,"y0":5.5,"y1":30.5},{"x0":39.5,"x1":40.5,"y0":29.5,"y1":30.5}
],
"path":[
{"x":1,"y":1},{"x":2,"y":2},{"x":3,"y":3},{"x":4,"y":4},{"x":5,"y":5},{"x":6,"y":5},{"x":7,"y":5},{"x":8,"y":5},{"x":9,"y":5},{"x":10,"y":5},{"x":11,"y":5},{"x":12,"y":5},{"x":13,"y":5},{"x":14,"y":5},{"x":15,"y":5},{"x":16,"y":5},{"x":17,"y":5},{"x":18,"y":5},{"x":19,"y":5},{"x":20,"y":5},{"x":21,"y":5},{"x":22,"y":5},{"x":23,"y":5},{"x":24,"y":5},{"x":25,"y":5},{"x":26,"y":5},{"x":27,"y":5},{"x":28,"y":5},{"x":29,"y":5},{"x":30,"y":5},{"x":31,"y":5},{"x":32,"y":5},{"x":33,"y":5},{"x":34,"y":5},{"x":35,"y":5},{"x":36,"y":5},{"x":37,"y":6},{"x":37,"y":7},{"x":37,"y":8},{"x":37,"y":9},{"x":37,"y":10},{"x":37,"y":11},{"x":37,"y":12},{"x":37,"y":13},{"x":37,"y":14},{"x":38,"y":15},{"x":38,"y":16},{"x":38,"y":17},{"x":38,"y":18},{"x":38,"y":19},{"x":38,"y":20},{"x":38,"y":21},{"x":38,"y":22},{"x":39,"y":23},{"x":40,"y":24},{"x":40,"y":25},{"x":40,"y":26},{"x":40,"y":27},{"x":40,"y":28},{"x":40,"y":29},{"x":40,"y":30}
]
},
"layer":[
{"data":{"name":"cells"},
 "mark":{"type":"rect","width":16,"height":14.2},
 "encoding":{
  "x":{"field":"x","type":"quantitative","scale":{"domain":[0.5,60.5],"nice":false,"zero":false},
       "axis":{"orient":"bottom","values":[10,20,30,40,50,60],"title":null,"grid":true,"gridColor":"#262626","gridOpacity":0.15,"domain":false,"tickSize":-5,"tickColor":"#262626","labelPadding":16,"labelFontSize":14,"labelColor":"#262626","zindex":1}},
  "y":{"field":"y","type":"quantitative","scale":{"domain":[0.5,60.5],"nice":false,"zero":false},
       "axis":{"orient":"left","values":[10,20,30,40,50,60],"title":null,"grid":true,"gridColor":"#262626","gridOpacity":0.15,"domain":false,"tickSize":-5,"tickColor":"#262626","labelPadding":13,"labelFontSize":14,"labelColor":"#262626","zindex":1}},
  "color":{"field":"v","type":"quantitative",
    "scale":{"type":"quantize","domain":[1,65],"range":["#ff0000","#000000","#020202","#030303","#050505","#070707","#090909","#0b0b0b","#0d0d0d","#0f0f0f","#101010","#121212","#141414","#161616","#181818","#1a1a1a","#1c1c1c","#1e1e1e","#212121","#232323","#252525","#272727","#292929","#2c2c2c","#2e2e2e","#303030","#323232","#353535","#373737","#393939","#3b3b3b","#3e3e3e","#404040","#424242","#454545","#474747","#4a4a4a","#4c4c4c","#4f4f4f","#515151","#545454","#565656","#595959","#5b5b5b","#5e5e5e","#606060","#626262","#656565","#686868","#6a6a6a","#6d6d6d","#707070","#727272","#757575","#787878","#7a7a7a","#7d7d7d","#7f7f7f","#828282","#858585","#878787","#8a8a8a","#8d8d8d","#8f8f8f","#929292","#959595","#979797","#9a9a9a","#9d9d9d","#9f9f9f","#a2a2a2","#a5a5a5","#a7a7a7","#aaaaaa","#acacac","#afafaf","#b2b2b2","#b4b4b4","#b7b7b7","#bababa","#bcbcbc","#bfbfbf","#c2c2c2","#c5c5c5","#c8c8c8","#cbcbcb","#cdcdcd","#d0d0d0","#d3d3d3","#d6d6d6","#d9d9d9","#dcdcdc","#dedede","#e1e1e1","#e4e4e4","#e7e7e7","#eaeaea","#ededed","#efefef","#f2f2f2","#f5f5f5","#f8f8f8","#fbfbfb","#fefefe"]},
    "legend":{"type":"gradient","direction":"vertical","orient":"none","legendX":495,"legendY":0,"gradientLength":416,"gradientThickness":31,"gradientStrokeWidth":0,"title":null,"labelFontSize":14,"labelColor":"#262626","labelOffset":7,"labelOverlap":false,
      "labelExpr":"abs(datum.value - round(datum.value / 10) * 10) < 0.31 && round(datum.value / 10) > 0 ? format(round(datum.value / 10) * 10, 'd') : ''"}}
 }},
{"data":{"name":"walls"},
 "mark":{"type":"rect","color":"#ff0000"},
 "encoding":{
  "x":{"field":"x0","type":"quantitative","axis":{"orient":"top","values":[10,20,30,40,50,60],"title":null,"labels":false,"grid":false,"domain":false,"tickSize":-5,"tickColor":"#262626"}},
  "x2":{"field":"x1"},
  "y":{"field":"y0","type":"quantitative","axis":{"orient":"right","values":[10,20,30,40,50,60],"title":null,"labels":false,"grid":false,"domain":false,"tickSize":-5,"tickColor":"#262626"}},
  "y2":{"field":"y1"}
 }},
{"data":{"name":"path"},
 "mark":{"type":"circle","size":34,"color":"#00f000","opacity":1},
 "encoding":{
  "x":{"field":"x","type":"quantitative","axis":null},
  "y":{"field":"y","type":"quantitative","axis":null}
 }}
],
"resolve":{"axis":{"x":"independent","y":"independent"}}
}
